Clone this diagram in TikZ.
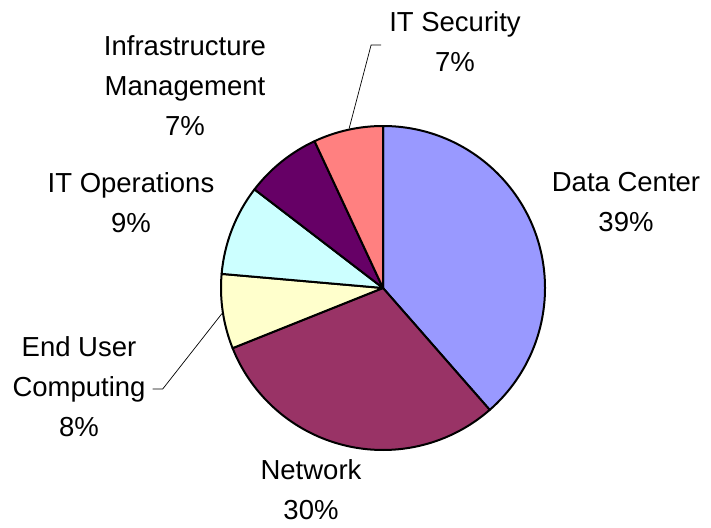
\documentclass[tikz,border=0pt]{standalone}
\usepackage{fontspec}
\setmainfont{Liberation Sans}
\usetikzlibrary{calc}

\definecolor{dcblue}{HTML}{9999FF}
\definecolor{netplum}{HTML}{993366}
\definecolor{euyellow}{HTML}{FFFFCC}
\definecolor{opscyan}{HTML}{CCFFFF}
\definecolor{infrapurple}{HTML}{660066}
\definecolor{secsalmon}{HTML}{FF8080}

\begin{document}
\begin{tikzpicture}[x=1pt,y=-1pt,
  slice/.style={draw=black,line width=2pt,line join=round},
  lbl/.style={align=center,inner sep=0pt,font=\fontsize{27.5}{40}\selectfont},
  leader/.style={draw=black,line width=0.7pt}]
\useasboundingbox (0,0) rectangle (711,527);
\coordinate (c) at (383,288);
\filldraw[slice,fill=dcblue] (c) -- ++(90:162pt) arc[start angle=90,end angle=-48.8,radius=162pt] -- cycle;
\filldraw[slice,fill=netplum] (c) -- ++(-48.8:162pt) arc[start angle=-48.8,end angle=-158.2,radius=162pt] -- cycle;
\filldraw[slice,fill=euyellow] (c) -- ++(-158.2:162pt) arc[start angle=-158.2,end angle=-185,radius=162pt] -- cycle;
\filldraw[slice,fill=opscyan] (c) -- ++(-185:162pt) arc[start angle=-185,end angle=-217.5,radius=162pt] -- cycle;
\filldraw[slice,fill=infrapurple] (c) -- ++(-217.5:162pt) arc[start angle=-217.5,end angle=-245,radius=162pt] -- cycle;
\filldraw[slice,fill=secsalmon] (c) -- ++(-245:162pt) arc[start angle=-245,end angle=-270,radius=162pt] -- cycle;
\node[lbl] (dc) at (626,202) {Data Center\\39\%};
\node[lbl] (net) at (311,490) {Network\\30\%};
\node[lbl] (eu) at (79,387) {End User\\Computing\\8\%};
\node[lbl] (ops) at (131,203) {IT Operations\\9\%};
\node[lbl] (infra) at (185,86) {Infrastructure\\Management\\7\%};
\node[lbl] (sec) at (455,42) {IT Security\\7\%};
\coordinate (eu tip) at ($(c)+(-171:163pt)$);
\coordinate (sec tip) at ($(c)+(102:163pt)$);
\draw[leader] ([shift={(7,2)}]eu.east) -- ++(10,0) -- (eu tip);
\draw[leader] ([shift={(-8,3)}]sec.west) -- ++(-10,0) -- (sec tip);
\end{tikzpicture}
\end{document}
